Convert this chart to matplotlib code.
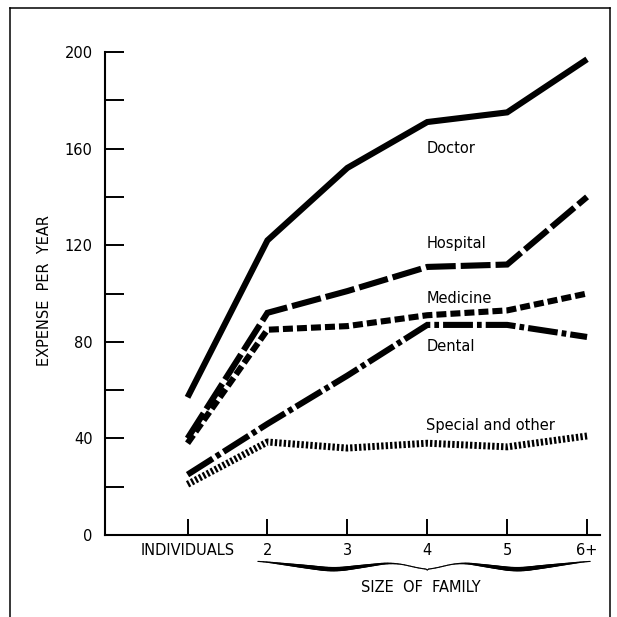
import numpy as np
import matplotlib
matplotlib.use('Agg')
import matplotlib.pyplot as plt
from matplotlib.collections import LineCollection
from matplotlib.lines import Line2D

plt.rcParams['font.family'] = ['DejaVu Sans']
plt.rcParams['lines.scale_dashes'] = False

# ---- data ----
categories = ['INDIVIDUALS', '2', '3', '4', '5', '6+']
doctor = [57, 122, 152, 171, 175, 197]
hospital = [40, 92, 101, 111, 112, 140]
medicine = [38, 85, 86.5, 91, 93, 100]
dental = [25, 46, 66, 87, 87, 82]
special = [21, 38.5, 36, 38, 36.5, 41]
yticks_major = [0, 40, 80, 120, 160, 200]
yticks_minor = [20, 60, 100, 140, 180]
series_labels = ['Doctor', 'Hospital', 'Medicine', 'Dental', 'Special and other']
label_y = [160, 120.5, 98, 78, 45.5]

W = 617
fig = plt.figure(figsize=(6.17, 6.17), dpi=100)
ax = fig.add_axes([105 / W, 82 / W, 495 / W, 483 / W])

x = np.arange(len(categories))
common = dict(color='black', lw=4.4, clip_on=False, solid_joinstyle='miter',
              dash_capstyle='butt', dash_joinstyle='miter', solid_capstyle='butt')
l1, = ax.plot(x, doctor, **common)
l2, = ax.plot(x, hospital, **common)
l2.set_dashes([21.5, 3.6])
l3, = ax.plot(x, medicine, **common)
l3.set_dashes([7.2, 2.9])
l4, = ax.plot(x, dental, **common)
l4.set_dashes([21.5, 2.9, 3.4, 2.9])
l5, = ax.plot(x, special, color='black', lw=5.0, clip_on=False, dash_capstyle='butt')
l5.set_dashes([1.7, 1.5])

for name, yv in zip(series_labels, label_y):
    ax.text(2.99, yv, name, ha='left', va='center', fontsize=10.5)

ax.set_ylim(0, 200)
ax.set_xlim(-1.033, 5.162)
for s in ['top', 'right']:
    ax.spines[s].set_visible(False)
ax.spines['left'].set_linewidth(1.5)
ax.spines['bottom'].set_linewidth(1.5)
ax.spines['left'].set_bounds(0, 200)

ax.set_yticks(yticks_major)
ax.set_yticks(yticks_minor, minor=True)
ax.tick_params(axis='y', which='both', direction='in', length=14, width=1.4,
               labelsize=10.5, pad=9)
ax.set_xticks(x)
ax.set_xticklabels(categories)
ax.tick_params(axis='x', direction='in', length=11.5, width=1.4,
               labelsize=10.5, pad=6)

# y label
fig.text(45 / W, 1 - 290 / W, 'EXPENSE  PER  YEAR', rotation=90,
         ha='center', va='center', fontsize=10.5)

# brace under family sizes
px = 200 / 483.0  # data units per pixel in y
xl, xm, xr = 0.88, 3.0, 5.04
def half_brace(x0, x1, n=120):
    u = np.linspace(0, 1, n)
    # Hermite-like profile: top at ends, trough, hump, cusp at centre
    knots = np.array([0, 0.45, 0.8, 1.0])
    vals = np.array([0, -1.0, -0.15, -1.0])
    y = np.interp(u, knots, vals)
    # smooth
    k = 9
    yp = np.pad(y, k, mode='edge')
    y = np.convolve(yp, np.ones(2 * k + 1) / (2 * k + 1), mode='same')[k:-k]
    y[-1] = -1.0
    xs = x0 + (x1 - x0) * u
    widths = 0.8 + 2.4 * np.sin(np.pi * np.clip(u / 0.85, 0, 1)) ** 1.5
    return xs, y, widths

top = -(561 - 535) * px
depth = 9 * px
for (a, b) in [(xl, xm), (xr, xm)]:
    xs, ys, ws = half_brace(a, b)
    yy = top + ys * depth
    pts = np.column_stack([xs, yy]).reshape(-1, 1, 2)
    segs = np.concatenate([pts[:-1], pts[1:]], axis=1)
    lc = LineCollection(segs, linewidths=ws[:-1], colors='black',
                        capstyle='round', clip_on=False)
    ax.add_collection(lc)

fig.text(421 / W, 1 - 588 / W, 'SIZE  OF  FAMILY', ha='center', va='center',
         fontsize=10.5)

# outer frame (open at bottom)
fx0, fx1, fy = 10 / W, 610 / W, 1 - 8 / W
for xs_, ys_ in [([fx0, fx0], [0, fy]), ([fx0, fx1], [fy, fy]), ([fx1, fx1], [fy, 0])]:
    fig.add_artist(Line2D(xs_, ys_, color='black', lw=1.1, transform=fig.transFigure))

fig.savefig('out.png', dpi=100)
